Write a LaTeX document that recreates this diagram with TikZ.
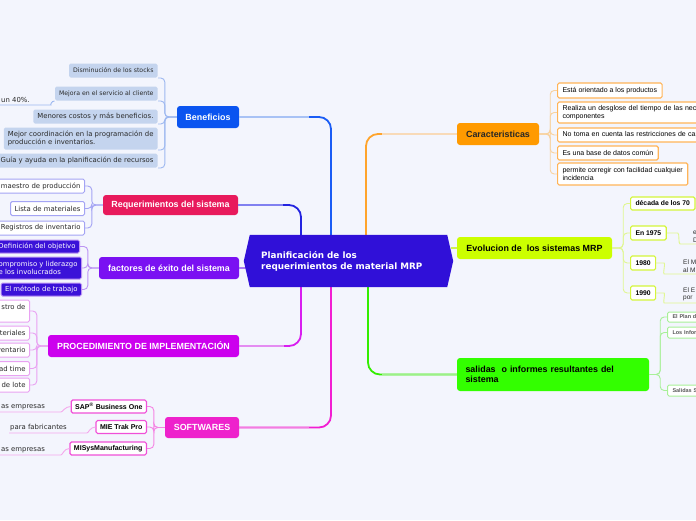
\documentclass[tikz,border=0pt]{standalone}
\usepackage{fontspec}
\setmainfont{Liberation Sans}
\newfontfamily\dvs{DejaVu Sans}
\usetikzlibrary{calc}
\definecolor{bgc}{HTML}{F3F5FD}
\definecolor{mrpc}{HTML}{3010D8}
\definecolor{benc}{HTML}{0A54F0}
\definecolor{benl}{HTML}{A8C2F5}
\definecolor{benk}{HTML}{1A5CF5}
\definecolor{benfill}{HTML}{C4D4EE}
\definecolor{benbr}{HTML}{9DB8F0}
\definecolor{reqc}{HTML}{E81A5C}
\definecolor{reqk}{HTML}{2323E0}
\definecolor{reql}{HTML}{8080F0}
\definecolor{reqbr}{HTML}{A4A4F4}
\definecolor{facc}{HTML}{7A10F2}
\definecolor{facl}{HTML}{A97CF5}
\definecolor{facfill}{HTML}{3B12D8}
\definecolor{facbr}{HTML}{BC94F4}
\definecolor{procc}{HTML}{CC00EE}
\definecolor{prok}{HTML}{D81EF0}
\definecolor{prol}{HTML}{E48CF2}
\definecolor{probr}{HTML}{E9A2F2}
\definecolor{softc}{HTML}{EE22CC}
\definecolor{softk}{HTML}{F21ED2}
\definecolor{softl}{HTML}{F47CE0}
\definecolor{softbr}{HTML}{F050D8}
\definecolor{softu}{HTML}{F4A8EC}
\definecolor{carc}{HTML}{FF9A00}
\definecolor{cark}{HTML}{FFA42C}
\definecolor{carl}{HTML}{F8DAB8}
\definecolor{carbr}{HTML}{FFB458}
\definecolor{carbk}{HTML}{F9D29E}
\definecolor{evoc}{HTML}{CCFF00}
\definecolor{evol}{HTML}{CFF250}
\definecolor{evobr}{HTML}{D4F53A}
\definecolor{evobk}{HTML}{E0F790}
\definecolor{salc}{HTML}{33FF00}
\definecolor{salk}{HTML}{33EE00}
\definecolor{sall}{HTML}{9CF088}
\definecolor{salbr}{HTML}{A8F098}
\definecolor{txt}{HTML}{2A2A2A}
\tikzset{
 branch/.style={rounded corners=3pt, inner sep=0pt, font=\bfseries\fontsize{8.9}{10.5}\selectfont},
 mainline/.style={line width=1.8pt, rounded corners=12pt},
 brk/.style={line width=0.9pt, rounded corners=4pt},
 kid/.style={inner xsep=4pt, inner ysep=0pt, minimum height=14pt, rounded corners=1.5pt, line width=1pt, align=left},
 lft/.style={font=\dvs\fontsize{6.9}{8.6}\selectfont, text=txt},
 bkid/.style={kid, fill=benfill, font=\dvs\fontsize{6.9}{8.6}\selectfont, text=txt},
 bsmall/.style={font=\dvs\fontsize{6.2}{8}\selectfont},
 rkid/.style={kid, lft, draw=reqbr, fill=white},
 fkid/.style={kid, draw=facbr, fill=facfill, text=white, font=\dvs\fontsize{6.9}{8.6}\selectfont},
 pkid/.style={kid, lft, draw=probr, fill=white},
 skid/.style={kid, draw=softbr, fill=white, font=\bfseries\fontsize{7}{8}\selectfont, line width=1.1pt, minimum height=13pt},
 ckid/.style={kid, draw=carbr, fill=white, font=\fontsize{7}{8.6}\selectfont, inner xsep=5pt, line width=1.1pt},
 ekid/.style={kid, draw=evobr, fill=white, font=\bfseries\fontsize{6.8}{8}\selectfont, inner xsep=5pt, line width=1.1pt},
 dkid/.style={kid, draw=salbr, fill=white, text=black!65, font=\bfseries\fontsize{5.5}{6.5}\selectfont, inner xsep=5pt, minimum height=10pt},
 gtxt/.style={inner xsep=1pt, inner ysep=2pt, lft},
 etxt/.style={inner ysep=1.5pt, align=left, font=\fontsize{6.5}{7.5}\selectfont, text=txt},
}
\begin{document}
\begin{tikzpicture}[x=1pt,y=-1pt]
\useasboundingbox (0,0) rectangle (696,520);
\clip (0,0) rectangle (696,520);
\fill[bgc] (0,0) rectangle (696,520);

% branch nodes
\node[branch, fill=benc, text=white, minimum width=62, minimum height=22] (ben) at (208,117) {Beneficios};
\node[branch, fill=reqc, text=white, minimum width=135, minimum height=20] (req) at (170.5,205) {Requerimientos del sistema};
\node[branch, fill=facc, text=white, minimum width=140, minimum height=22] (fac) at (169,268) {factores de éxito del sistema};
\node[branch, fill=procc, text=white, minimum width=191, minimum height=22] (pro) at (143.5,346) {PROCEDIMIENTO DE IMPLEMENTACIÓN};
\node[branch, fill=softc, text=white, minimum width=74, minimum height=21] (soft) at (202,427.5) {SOFTWARES};
\node[branch, fill=carc, text=black!85, minimum width=82, minimum height=22] (car) at (498,134) {Caracteristicas};
\node[branch, fill=evoc, text=black, minimum width=155, minimum height=22] (evo) at (534.5,248) {Evolucion de\ \ los sistemas MRP};
\node[branch, fill=salc, text=black, minimum width=192, minimum height=33, text width=175, align=left] (sal) at (553,374.5) {salidas\ \ o informes resultantes del\\sistema};

% centre
\node[minimum width=209, minimum height=52, inner sep=0pt] (mrp) at (348.5,261) {};
\coordinate (tB) at (331,236);
\coordinate (tR) at (301,236);
\coordinate (tC) at (366,236);
\coordinate (bP) at (301,286);
\coordinate (bS) at (331,286);
\coordinate (bG) at (368,286);
\coordinate (lF) at (246,268);
\coordinate (rE) at (451,248);

% main connectors
\draw[mainline, benk] (ben.east) -| (tB);
\draw[mainline, benl] (ben.east) -- ++(70,0);
\draw[mainline, reqk] (req.east) -| (tR);
\draw[mainline, reql] (req.east) -- ++(45,0);
\draw[mainline, facl] (fac.east) -- (lF);
\draw[mainline, prok] (pro.east) -| (bP);
\draw[mainline, prol] (pro.east) -- ++(45,0);
\draw[mainline, softk] (soft.east) -| (bS);
\draw[mainline, softl] (soft.east) -- ++(70,0);
\draw[mainline, cark] (car.west) -| (tC);
\draw[mainline, carl] (car.west) -- ++(-75,0);
\draw[mainline, evol] (evo.west) -- (rE);
\draw[mainline, salk] (sal.west) -| (bG);
\draw[mainline, sall] (sal.west) -- ++(-75,0);

\fill[mrpc] (mrp.west) -- ($(mrp.north west)+(6,0)$) -- ($(mrp.north east)+(-6,0)$) -- (mrp.east) -- ($(mrp.south east)+(-6,0)$) -- ($(mrp.south west)+(6,0)$) -- cycle;
\node[anchor=west, align=left, text=white, font=\dvs\bfseries\fontsize{8.8}{11}\selectfont, inner sep=0pt] (mrpt) at (261,261.5) {Planificación de los\\requerimientos de material MRP};

% Beneficios
\node[bkid, bsmall, anchor=south east] (b1) at (158,78) {Disminución de los stocks};
\node[bkid, bsmall, anchor=south east] (b2) at (158,101) {Mejora en el servicio al cliente};
\node[bkid, anchor=south east] (b3) at (158,124) {Menores costos y más beneficios.};
\node[bkid, anchor=south east, minimum height=22] (b4) at (158,150) {Mejor coordinación en la programación de\\producción e inventarios.};
\node[bkid, anchor=south east] (b5) at (158,168) {Guía y ayuda en la planificación de recursos};
\foreach \k in {b1,b2,b3,b4,b5} \draw[brk, benbr] (ben.west) -- ++(-12,0) |- (\k.south east);
\node[gtxt, anchor=south west] (u40) at (0,105) {un 40\%.};
\draw[brk, benbr] (u40.south west) -- ++(47,0) to[out=0,in=180] (b2.south west);

% Requerimientos
\node[rkid, anchor=east] (r1) at (85,186) {maestro de producción};
\node[rkid, anchor=east] (r2) at (85,208.5) {Lista de materiales};
\node[rkid, anchor=east] (r3) at (85,228) {Registros de inventario};
\foreach \k in {r1,r2,r3} \draw[brk, reqbr] (req.west) -- ++(-11,0) |- (\k.east);

% factores
\node[fkid, anchor=east, minimum height=13] (f1) at (80,246.5) {Definición del objetivo};
\node[fkid, anchor=east, minimum height=22] (f2) at (82,268) {ompromiso y liderazgo\\e los involucrados};
\node[fkid, anchor=east, minimum height=13] (f3) at (82,289.5) {El método de trabajo};
\foreach \k in {f1,f2,f3} \draw[brk, facbr] (fac.west) -- ++(-11,0) |- (\k.east);

% procedimiento
\node[pkid, anchor=east, minimum height=22] (p1) at (30,311) {stro de\\\phantom{d}};
\node[pkid, anchor=east] (p2) at (30,333) {teriales};
\node[pkid, anchor=east] (p3) at (30,350) {ventario};
\node[pkid, anchor=east] (p4) at (30,368.5) {ad time};
\node[pkid, anchor=east] (p5) at (30,385) {de lote};
\foreach \k in {p1,p2,p3,p4,p5} \draw[brk, probr] (pro.west) -- ++(-11,0) |- (\k.east);

% softwares
\node[skid, anchor=east] (s1) at (147,406.5) {SAP\textsuperscript{®} Business One};
\node[skid, anchor=east] (s2) at (147,427) {MIE Trak Pro};
\node[skid, anchor=east] (s3) at (147,448.5) {MISysManufacturing};
\foreach \k in {s1,s2,s3} \draw[brk, softbr!70] (soft.west) -- ++(-11,0) |- (\k.east);
\node[gtxt, anchor=south west] (g1) at (0,412) {as empresas};
\node[gtxt, anchor=south west] (g2) at (9,433) {para fabricantes};
\node[gtxt, anchor=south west] (g3) at (0,455) {as empresas};
\draw[brk, softu] (g1.south west) -- ++(57,0) to[out=0,in=180] (s1.west);
\draw[brk, softu] (g2.south west) -- ++(74,0) to[out=0,in=180] (s2.west);
\draw[brk, softu] (g3.south west) -- ++(57,0) to[out=0,in=180] (s3.west);

% Caracteristicas
\node[ckid, anchor=west, minimum height=15] (c1) at (557,90.5) {Está orientado a los productos};
\node[ckid, anchor=west, minimum height=21, text width=150] (c2) at (557,112.5) {Realiza un desglose del tiempo de las nece\\componentes};
\node[ckid, anchor=west, text width=150] (c3) at (557,135) {No toma en cuenta las restricciones de cap};
\node[ckid, anchor=west] (c4) at (557,153) {Es una base de datos común};
\node[ckid, anchor=west, minimum height=22] (c5) at (557,174) {permite corregir con facilidad cualquier\\incidencia};
\foreach \k in {c1,c2,c3,c4,c5} \draw[brk, carbk] (car.east) -- ++(11,0) |- (\k.west);

% Evolucion
\node[ekid, anchor=west, minimum height=13] (e1) at (630,203.5) {década de los 70};
\node[ekid, anchor=west] (e2) at (630,233) {En 1975};
\node[ekid, anchor=west] (e3) at (630,263) {1980};
\node[ekid, anchor=west] (e4) at (630,293) {1990};
\foreach \k in {e1,e2,e3,e4} \draw[brk, evobk] (evo.east) -- ++(11,0) |- (\k.west);
\node[etxt, anchor=south west, inner xsep=9pt] (h2) at (684,244) {e\\D};
\node[etxt, anchor=south west, inner xsep=15pt] (h3) at (668,274) {El M\\al M};
\node[etxt, anchor=south west, inner xsep=15pt] (h4) at (668,303) {El E\\por};
\draw[brk, evobk] (e2.east) -- ++(7,0) to[out=0,in=180] (h2.south west) -- (h2.south east);
\draw[brk, evobk] (e3.east) -- ++(4,0) to[out=0,in=180] (h3.south west) -- (h3.south east);
\draw[brk, evobk] (e4.east) -- ++(4,0) to[out=0,in=180] (h4.south west) -- (h4.south east);

% salidas
\node[dkid, anchor=west, text width=40] (d1) at (667,317) {El Plan d};
\node[dkid, anchor=west, text width=40, minimum height=11] (d2) at (667,332.5) {Los Infor};
\node[dkid, anchor=west, text width=40, minimum height=11] (d3) at (667,390.5) {Salidas S};
\foreach \k in {d1,d2,d3} \draw[brk, salbr] (sal.east) -- ++(11,0) |- (\k.west);
\end{tikzpicture}
\end{document}
